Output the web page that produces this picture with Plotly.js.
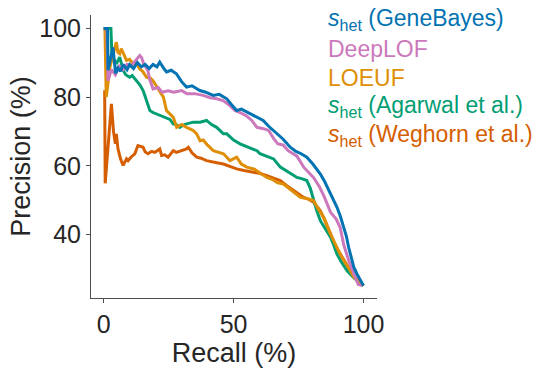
<!DOCTYPE html>
<html>
<head>
<meta charset="utf-8">
<script src="https://cdn.plot.ly/plotly-3.0.1.min.js"></script>
<style>html,body{margin:0;padding:0;background:#fff;}#chart{width:542px;height:368px;}</style>
</head>
<body>
<div id="chart"></div>
<script>
// GeneBayes s_het
const geneBayesRecall = [0,1.5,1.7,3.6,4.6,5.5,6.5,7.5,9,10,11.5,13,14.5,16,17.5,19,20.5,21.6,23,24.2,26,28,30,31.9,34,37,39,42.2,44.5,47.4,49,51.2,53,56.4,58.5,61.4,63.5,66.7,69,71.8,74,76,78.2,80.5,83.4,85,87.3,88.5,89.8,91,92.4,93.4,94.3,95.3,96.3,97.5,98.5,100];
const geneBayesPrecision = [100,100,87.8,94.5,86.9,88.5,87.5,89.5,88,89.5,88.3,90,88.8,89.5,88.3,89.5,88.8,90.2,88.5,87.3,87.8,86.8,84.5,82.9,83.3,81.9,81.5,80.5,80.8,79.5,78,76.1,76.5,75.2,74.5,73.2,71.5,69.4,67.8,65.4,64.2,63.5,62.5,60.5,57.6,55.5,51.8,50.3,47.9,45.5,42.1,39.5,36.2,33.5,30.4,28.5,27,25.1];

// DeepLOF
const deepLofRecall = [0,1.2,1.7,3,4.5,6,7.5,9,10.5,12,13.9,14.6,15.5,17,17.8,19,21,22.5,24.8,27,30,32,35.1,38.3,41,43.5,46,48.6,50.5,52.5,55,57,59,61.5,63.5,65.4,67,69.2,71,74.4,77,80.8,83,85,87.3,89.5,91,92.4,94.3,96.3,98,99.5];
const deepLofPrecision = [100,100,84.8,88,86.5,89,88,89.5,89,90.5,92.1,91.5,89.5,87.8,85,82.4,82.8,81.4,81.8,81.4,81.9,81,81,80.5,79.8,79.5,79,77.5,76.1,75.5,74.5,73.2,71.2,70.8,70.3,68,66.4,66,64.4,62.8,59.6,56.5,54,50.8,46.5,44.5,42.1,37,32.4,28.5,25.4,25.1];

// LOEUF
const loeufRecall = [0,0.5,1,2.5,4.9,5.5,6.2,6.8,8.8,10,11.3,12.5,13.9,15,16.5,18,19,21.6,23,24.2,26.8,28.1,30,31.9,34.5,35.8,37.1,38.3,40,42.2,44,46.1,48.6,51.2,53,55.1,58,60,62.8,65,67,69.2,72,75.7,78,80.8,82.5,84.7,86.5,88.5,90.5,92.4,94.5,96.3,98,100];
const loeufPrecision = [100,100,80,89,96,93,92.6,94.1,90.7,91,89.7,89.9,88.2,87.5,85.8,85.5,84.8,81.9,80,76.1,74.1,71.2,72,71.2,70.3,69.3,67.3,67.5,66,64.4,64,63.5,61.5,62.5,60.5,59.6,59,58,56.6,56,55,54.7,53,50.8,50.5,49.9,47.5,45,41.5,38.2,35,32.4,30,27.5,26.5,25.1];

// Agarwal et al. s_het
const agarwalRecall = [0,2.8,3.2,4.9,6.2,7.5,8.5,10,11,12.6,14,15.2,16.5,17.8,19,20.3,22,24.2,25.5,26.8,28,29.3,30.5,31.9,34.5,37.1,39.6,41.5,43.5,46.1,47.4,50,52.5,56,59,60.2,62.5,65.4,68,71,74.4,76.5,78.2,79.5,80.8,82,83.4,85.5,87.3,88.5,89.8,91.5,93.7,95.5,97.6,100];
const agarwalPrecision = [100,100,92,89.7,91.6,87.8,86.5,85.8,86.3,84.8,83.5,81.9,79,76.1,75.5,75.1,74.6,74.1,73.5,72.2,72,71.2,71.8,72.2,72.7,72.7,73.2,72,71.2,69.3,69.3,67.5,66.4,65.3,64.4,63.5,62.8,62,59.6,58.3,56.6,56.2,55.7,53.5,49.9,47,44,41.5,39.2,37,34.3,32,29.4,28,26.5,25.1];

// Weghorn et al. s_het
const weghornRecall = [0.4,0.6,3,3.8,4.5,4.9,5.5,6.5,7.5,8.8,9.4,10.5,12,13.2,15.2,16,17.1,18.5,19.7,21.6,22.3,23.5,24.8,26.8,28,30,31.9,32.6,34,35.8,37.5,39.6,42,44,46.1,48.5,51.2,54,57.6,60,62.8,65,68,70.5,73.1,75,77,79,80.8,82,83.4,85.5,87.3,89,91.1,93,95,96.8,98.8,100];
const weghornPrecision = [82,54.9,78,70,66.4,69.3,65,62,60.1,62,61.5,62.5,63.5,65.9,65.4,64,63.5,64.2,63.9,64.9,63,63.2,62.5,64.4,63.9,64.5,64.9,65.4,63.8,62.5,62.2,61.5,61,60.8,60.5,59.8,59.1,58.6,58.1,57.8,57.1,56.6,55.7,54.2,52.8,51.8,50.8,50.2,49.4,48.2,46.9,43.5,40.1,37,34.3,31.8,29.4,27.5,26,25.1];

const seriesNames = ['<i>s</i><sub>het</sub> (GeneBayes)','DeepLOF','LOEUF','<i>s</i><sub>het</sub> (Agarwal et al.)','<i>s</i><sub>het</sub> (Weghorn et al.)'];
const seriesColors = ['#0173b2','#cc78bc','#de8f05','#029e73','#d55e00'];
const xTicks = [0,50,100];
const yTicks = [40,60,80,100];

const xs = [geneBayesRecall, deepLofRecall, loeufRecall, agarwalRecall, weghornRecall];
const ys = [geneBayesPrecision, deepLofPrecision, loeufPrecision, agarwalPrecision, weghornPrecision];

const traces = [];
for (let i = xs.length - 1; i >= 0; i--) {
  traces.push({x: xs[i], y: ys[i], type: 'scatter', mode: 'lines', name: seriesNames[i],
    line: {color: seriesColors[i], width: 3}, showlegend: false});
}

const font = 'Arial, "Liberation Sans", sans-serif';
const annotations = seriesNames.map((n, i) => ({
  text: n, xref: 'paper', yref: 'paper', x: 0.822, y: 0.983 - i * 0.1025,
  xanchor: 'left', yanchor: 'middle', showarrow: false, align: 'left',
  font: {family: font, size: 23, color: seriesColors[i]}
}));

const axisCommon = {showline: true, linecolor: '#4d4d4d', linewidth: 1, ticks: 'outside', ticklen: 4,
  tickcolor: '#4d4d4d', showgrid: false, zeroline: false, tickfont: {family: font, size: 25, color: '#262626'}};

const layout = {
  width: 542, height: 368,
  margin: {l: 91, r: 165, t: 15, b: 70},
  paper_bgcolor: '#fff', plot_bgcolor: '#fff',
  xaxis: Object.assign({}, axisCommon, {range: [-4.86, 105.2], tickvals: xTicks, ticktext: xTicks.map(String),
    title: {text: 'Recall (%)', font: {family: font, size: 27, color: '#262626'}, standoff: 4}}),
  yaxis: Object.assign({}, axisCommon, {range: [21.5, 103.9], tickvals: yTicks, ticktext: yTicks.map(String),
    title: {text: 'Precision (%)', font: {family: font, size: 27, color: '#262626'}, standoff: 0}}),
  annotations: annotations
};

Plotly.newPlot('chart', traces, layout, {displayModeBar: false, staticPlot: true});
</script>
</body>
</html>
